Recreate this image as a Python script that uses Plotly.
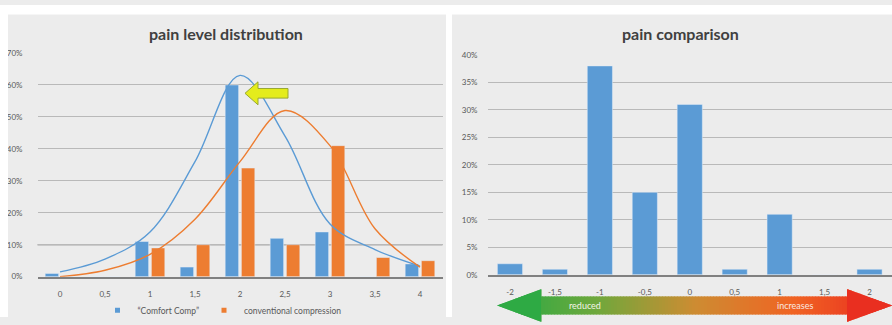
import plotly.graph_objects as go

W, H = 892, 325

# ---- left chart: pain level distribution ----
levels = ["0", "0,5", "1", "1,5", "2", "2,5", "3", "3,5", "4"]
comfort_share = [0.01, 0.0, 0.11, 0.03, 0.60, 0.12, 0.14, 0.0, 0.04]
conventional_share = [0.0, 0.0, 0.09, 0.10, 0.34, 0.10, 0.41, 0.06, 0.05]
comfort_curve = [0.015, 0.055, 0.14, 0.36, 0.63, 0.44, 0.165, 0.085, 0.033]
conventional_curve = [0.0, 0.02, 0.07, 0.18, 0.36, 0.52, 0.41, 0.15, 0.03]

# ---- right chart: pain comparison ----
changes = ["-2", "-1,5", "-1", "-0,5", "0", "0,5", "1", "1,5", "2"]
change_share = [0.02, 0.01, 0.38, 0.15, 0.31, 0.01, 0.11, 0.0, 0.01]

BLUE = "#5b9bd5"
ORANGE = "#ed7d31"
TXT = "#595959"
PANEL = "#ececec"
GRID = "#b9b9b9"
FONT = "Lato, 'Open Sans', sans-serif"


def px(x):
    return x / W


def py(y):
    return 1 - y / H


def poly(pts):
    return "M " + " L ".join(f"{px(x):.5f},{py(y):.5f}" for x, y in pts) + " Z"


fig = go.Figure()

fig.add_trace(go.Bar(x=levels, y=comfort_share, marker_color=BLUE,
                     xaxis="x", yaxis="y", showlegend=False))
fig.add_trace(go.Bar(x=levels, y=conventional_share, marker_color=ORANGE,
                     xaxis="x", yaxis="y", showlegend=False))
fig.add_trace(go.Scatter(x=levels, y=comfort_curve, mode="lines",
                         line=dict(color=BLUE, width=1.4, shape="spline", smoothing=1),
                         xaxis="x", yaxis="y", showlegend=False))
fig.add_trace(go.Scatter(x=levels, y=conventional_curve, mode="lines",
                         line=dict(color=ORANGE, width=1.4, shape="spline", smoothing=1),
                         xaxis="x", yaxis="y", showlegend=False))

# legend keys
fig.add_trace(go.Scatter(x=[None], y=[None], mode="markers", name="\u201cComfort Comp\u201d",
                         marker=dict(symbol="square", size=5, color=BLUE),
                         xaxis="x", yaxis="y"))
fig.add_trace(go.Scatter(x=[None], y=[None], mode="markers", name="conventional compression",
                         marker=dict(symbol="square", size=5, color=ORANGE),
                         xaxis="x", yaxis="y"))

fig.add_trace(go.Bar(x=changes, y=change_share, marker_color=BLUE, width=0.56,
                     xaxis="x2", yaxis="y2", showlegend=False))

tickfont = dict(family=FONT, size=8, color=TXT)
xcommon = dict(type="category", showgrid=False, ticks="", tickfont=tickfont,
               showline=True, linecolor="#808080", linewidth=1.5,
               range=[-0.5, 8.5], ticklabelstandoff=9, fixedrange=True)
ycommon = dict(showgrid=True, gridcolor=GRID, gridwidth=1, zeroline=False,
               tickformat=".0%", tickfont=tickfont, ticks="", showline=False,
               fixedrange=True)

shapes = []
# white margins around and between the two grey panels
for x0, x1, y0, y1 in [(0, 8, 0, 325), (446, 452, 0, 325), (0, 892, 0, 10)]:
    shapes.append(dict(type="rect", xref="paper", yref="paper",
                       x0=px(x0), x1=px(x1), y0=py(y1), y1=py(y0),
                       fillcolor="white", line=dict(width=0)))

# the 10% line on the left chart a shade heavier
shapes.append(dict(type="line", xref="x domain", yref="y", x0=0, x1=1, y0=0.1, y1=0.1,
                   layer="below", line=dict(color="#a8a8a8", width=1.6)))

# yellow pointer next to the tallest bar
arrow_pts = [(245, 92), (258, 80), (258, 87), (288, 87), (288, 97), (258, 97), (258, 104)]
shapes.append(dict(type="path", xref="paper", yref="paper", path=poly(arrow_pts),
                   fillcolor="#e4ec1c", line=dict(color="#98a832", width=1)))

# gradient double arrow under the comparison axis
tipL, baseL, baseR, tipR = 497, 541, 847, 892
cy, head_h, body_h = 313, 17, 9.5
stops = [(0.0, (34, 170, 70)), (0.25, (110, 168, 60)), (0.5, (205, 140, 50)),
         (0.75, (240, 100, 35)), (1.0, (232, 40, 32))]


def grad(t):
    for (t0, c0), (t1, c1) in zip(stops, stops[1:]):
        if t <= t1:
            f = (t - t0) / (t1 - t0)
            return "rgb(%d,%d,%d)" % tuple(round(a + (b - a) * f) for a, b in zip(c0, c1))
    return "rgb(%d,%d,%d)" % stops[-1][1]


def half(x):
    if x <= baseL:
        return head_h * (x - tipL) / (baseL - tipL)
    if x >= baseR:
        return head_h * (tipR - x) / (tipR - baseR)
    return body_h


edges = sorted(set([tipL, baseL, baseR, tipR] + list(range(tipL, tipR, 3))))
for a, b in zip(edges, edges[1:]):
    ha, hb = half(a), half(b)
    if a == baseL:
        ha = body_h
    if b == baseR:
        hb = body_h
    col = grad(((a + b) / 2 - tipL) / (tipR - tipL))
    pts = [(a, cy - ha), (b + 0.6, cy - hb), (b + 0.6, cy + hb), (a, cy + ha)]
    shapes.append(dict(type="path", xref="paper", yref="paper", path=poly(pts),
                       fillcolor=col, line=dict(width=0)))
for pts, col in [([(tipL, cy), (baseL, cy - head_h), (baseL, cy + head_h)], grad(0.04)),
                 ([(tipR, cy), (baseR, cy - head_h), (baseR, cy + head_h)], grad(0.97))]:
    shapes.append(dict(type="path", xref="paper", yref="paper", path=poly(pts),
                       fillcolor=col, line=dict(width=0)))

ann = dict(xref="paper", yref="paper", showarrow=False, xanchor="center", yanchor="middle")
annotations = [
    dict(ann, text="<b>pain level distribution</b>", x=px(226), y=py(30),
         font=dict(family=FONT, size=16, color="#404040")),
    dict(ann, text="<b>pain comparison</b>", x=px(680), y=py(30),
         font=dict(family=FONT, size=16, color="#404040")),
    dict(ann, text="reduced", x=px(585), y=py(313),
         font=dict(family=FONT, size=9, color="#f4f4e8")),
    dict(ann, text="increases", x=px(795), y=py(313),
         font=dict(family=FONT, size=9, color="#f8e8e0")),
]

fig.update_layout(
    width=W, height=H, margin=dict(l=0, r=0, t=0, b=0),
    paper_bgcolor=PANEL, plot_bgcolor="rgba(0,0,0,0)",
    barmode="group", bargap=0.28, bargroupgap=0.17,
    xaxis=dict(xcommon, domain=[px(37.5), px(442.5)], anchor="y"),
    yaxis=dict(ycommon, domain=[py(283), py(50)], range=[0, 0.7], dtick=0.1,
               anchor="x", ticklabelstandoff=14),
    xaxis2=dict(xcommon, domain=[px(487.5), 1.0], anchor="y2"),
    yaxis2=dict(ycommon, domain=[py(281), py(52)], range=[0, 0.4], dtick=0.05,
                anchor="x2", ticklabelstandoff=9),
    showlegend=True,
    legend=dict(orientation="h", x=px(222), y=py(318), xanchor="center", yanchor="middle",
                bgcolor="rgba(0,0,0,0)", font=dict(family=FONT, size=8.5, color=TXT),
                itemwidth=30, tracegroupgap=0),
    shapes=shapes, annotations=annotations,
)

fig.write_html("out.html")
